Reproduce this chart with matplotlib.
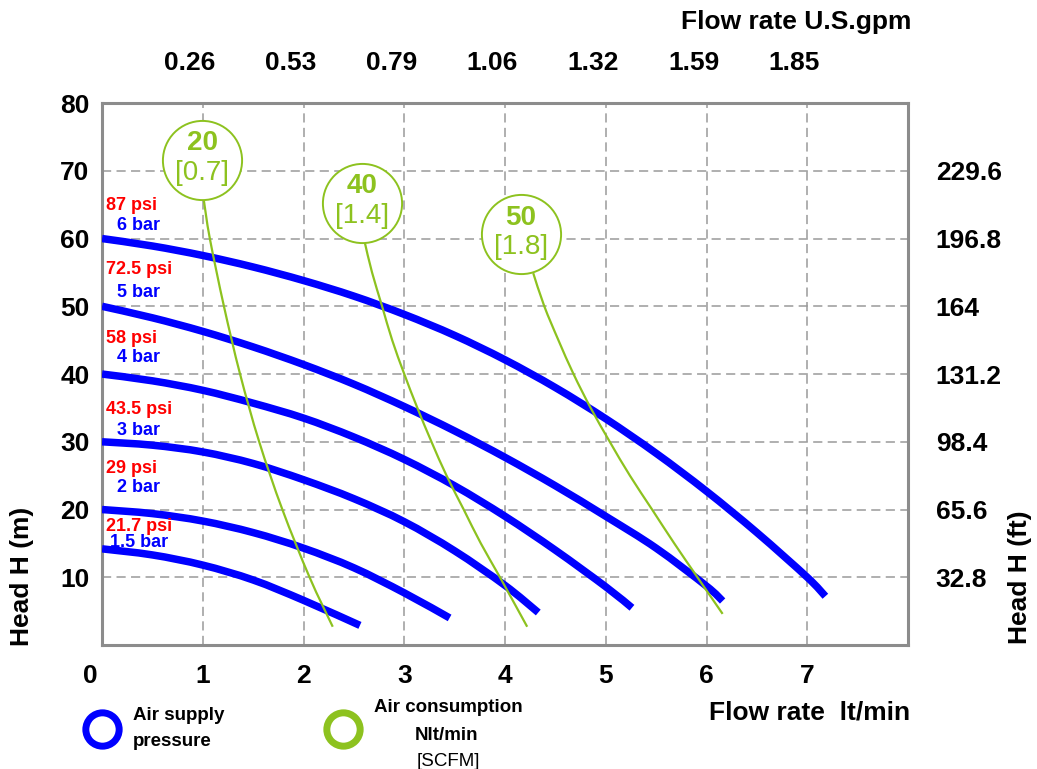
import numpy as np
import matplotlib
matplotlib.use("Agg")
import matplotlib.pyplot as plt
import matplotlib.transforms as mtransforms
from matplotlib.lines import Line2D
from matplotlib.path import Path
from matplotlib.patches import PathPatch

plt.rcParams["font.family"] = ["Liberation Sans", "DejaVu Sans"]
plt.rcParams["font.weight"] = "bold"

BLUE = "#0000ff"
RED = "#ff0000"
GREEN = "#8dc21f"
GRID = "#9a9a9a"
SPINE = "#8c8c8c"

# Air supply pressure curves: flow rate (lt/min) vs head (m)
bar_labels = ["6 bar", "5 bar", "4 bar", "3 bar", "2 bar", "1.5 bar"]
psi_labels = ["87 psi", "72.5 psi", "58 psi", "43.5 psi", "29 psi", "21.7 psi"]

flow_6bar = [0, 0.5, 1, 1.5, 2, 2.5, 3, 3.5, 4, 4.5, 5, 5.5, 6, 6.5, 7, 7.18]
head_6bar = [60, 58.9, 57.5, 55.8, 53.8, 51.5, 48.8, 45.7, 42.1, 38.0, 33.4, 28.3, 22.7, 16.6, 10.0, 7.2]

flow_5bar = [0, 0.5, 1, 1.5, 2, 2.5, 3, 3.5, 4, 4.5, 5, 5.5, 6, 6.16]
head_5bar = [50, 48.3, 46.3, 44.0, 41.4, 38.5, 35.2, 31.6, 27.7, 23.5, 19.0, 14.3, 8.7, 6.5]

flow_4bar = [0, 0.5, 1, 1.5, 2, 2.5, 3, 3.5, 4, 4.5, 5, 5.26]
head_4bar = [40, 39.0, 37.6, 35.7, 33.5, 30.7, 27.4, 23.5, 19.0, 14.0, 8.6, 5.5]

flow_3bar = [0, 0.5, 1, 1.5, 2, 2.5, 3, 3.5, 4, 4.33]
head_3bar = [30, 29.5, 28.5, 26.8, 24.4, 21.6, 18.2, 13.9, 8.8, 4.8]

flow_2bar = [0, 0.5, 1, 1.5, 2, 2.5, 3, 3.45]
head_2bar = [20, 19.4, 18.3, 16.6, 14.3, 11.4, 7.7, 4.0]

flow_15bar = [0, 0.5, 1, 1.5, 2, 2.56]
head_15bar = [14.2, 13.3, 11.8, 9.6, 6.6, 2.9]

pressure_curves = [
    (flow_6bar, head_6bar),
    (flow_5bar, head_5bar),
    (flow_4bar, head_4bar),
    (flow_3bar, head_3bar),
    (flow_2bar, head_2bar),
    (flow_15bar, head_15bar),
]

# Air consumption curves: Nlt/min [SCFM]
cons_labels = ["20", "40", "50"]
cons_scfm = ["[0.7]", "[1.4]", "[1.8]"]

flow_c20 = [1.01, 1.07, 1.21, 1.37, 1.56, 1.79, 2.06, 2.29]
head_c20 = [65.7, 60, 50, 40, 30, 20, 10, 2.7]

flow_c40 = [2.61, 2.68, 2.78, 2.88, 3.00, 3.13, 3.27, 3.42, 3.59, 3.76, 3.95, 4.22]
head_c40 = [59.3, 55, 50, 45, 40, 35, 30, 25, 20, 15, 10, 2.7]

flow_c50 = [4.28, 4.39, 4.53, 4.68, 4.85, 5.04, 5.24, 5.46, 5.68, 5.91, 6.16]
head_c50 = [54.9, 50, 45, 40, 35, 30, 25, 20, 15, 10, 4.6]

cons_curves = [(flow_c20, head_c20), (flow_c40, head_c40), (flow_c50, head_c50)]

# Axis ticks
x_ticks = [0, 1, 2, 3, 4, 5, 6, 7]
y_ticks = [10, 20, 30, 40, 50, 60, 70, 80]
gpm_ticks = [1, 2, 3, 4, 5, 6, 7]
gpm_labels = ["0.26", "0.53", "0.79", "1.06", "1.32", "1.59", "1.85"]
ft_ticks = [10, 20, 30, 40, 50, 60, 70]
ft_labels = ["32.8", "65.6", "98.4", "131.2", "164", "196.8", "229.6"]

# where the pressure labels sit (head value of the text centre)
psi_label_y = [64.9, 55.4, 45.3, 34.8, 26.1, 17.5]
bar_label_y = [61.9, 52.1, 42.5, 31.7, 23.3, 15.1]


def smooth_curve(xs, ys, **kw):
    """Draws a smooth bezier path through the read points (Catmull-Rom style)."""
    p = np.column_stack([xs, ys]).astype(float)
    n = len(p)
    verts = [p[0]]
    codes = [Path.MOVETO]
    for i in range(n - 1):
        p0 = p[i - 1] if i > 0 else p[i]
        p1 = p[i]
        p2 = p[i + 1]
        p3 = p[i + 2] if i + 2 < n else p[i + 1]
        verts += [p1 + (p2 - p0) / 6, p2 - (p3 - p1) / 6, p2]
        codes += [Path.CURVE4] * 3
    return PathPatch(Path(verts, codes), fill=False, **kw)


fig = plt.figure(figsize=(10.37, 7.69), dpi=100)
ax = fig.add_axes([0.0984, 0.1612, 0.7772, 0.7048])
ax.set_xlim(0, 8)
ax.set_ylim(0, 80)

ax.grid(True, linestyle=(0, (6, 3.5)), color=GRID, linewidth=1.1)
ax.set_axisbelow(True)
for sp in ax.spines.values():
    sp.set_color(SPINE)
    sp.set_linewidth(2.2)

ax.set_xticks(x_ticks)
ax.set_yticks(y_ticks)
ax.tick_params(axis="both", length=0, labelsize=19)
ax.tick_params(axis="x", pad=14)
ax.tick_params(axis="y", pad=9)
# the "0" label sits a bit left of the origin
shift = mtransforms.ScaledTranslation(-12 / 100, 0, fig.dpi_scale_trans)
xl0 = ax.get_xticklabels()[0]
xl0.set_transform(xl0.get_transform() + shift)

# right axis (feet)
axr = ax.twinx()
axr.set_ylim(0, 80)
axr.set_yticks(ft_ticks)
axr.set_yticklabels(ft_labels)
axr.tick_params(axis="y", length=0, labelsize=19, pad=20)
for sp in axr.spines.values():
    sp.set_visible(False)

# top axis (U.S. gpm)
axt = ax.twiny()
axt.set_xlim(0, 8)
axt.set_xticks(gpm_ticks)
axt.set_xticklabels(gpm_labels)
axt.tick_params(axis="x", length=0, labelsize=19, pad=20)
tshift = mtransforms.ScaledTranslation(-13 / 100, 0, fig.dpi_scale_trans)
for lab in axt.get_xticklabels():
    lab.set_transform(lab.get_transform() + tshift)
for sp in axt.spines.values():
    sp.set_visible(False)

# pressure curves and labels
for (fx, hy), bl, pl, by, py in zip(pressure_curves, bar_labels, psi_labels,
                                    bar_label_y, psi_label_y):
    ax.add_patch(smooth_curve(fx, hy, edgecolor=BLUE, linewidth=5.4,
                              capstyle="butt", zorder=3))
    ax.annotate(pl, xy=(0, py), xytext=(2.5, 0), textcoords="offset points",
                ha="left", va="center", color=RED, fontsize=13, zorder=7)
    ax.annotate(bl, xy=(0, by), xytext=(26.5, 0), textcoords="offset points",
                ha="center", va="center", color=BLUE, fontsize=13, zorder=7)

# air consumption curves with circle labels
circle_offsets = [(-1, 29), (-2, 29), (-9, 28)]
for (fx, hy), cl, sl, (dx, dy) in zip(cons_curves, cons_labels, cons_scfm, circle_offsets):
    ax.add_patch(smooth_curve(fx, hy, edgecolor=GREEN, linewidth=1.6, zorder=4))
    off = mtransforms.ScaledTranslation(dx / 72, dy / 72, fig.dpi_scale_trans)
    ax.plot([fx[0]], [hy[0]], marker="o", markersize=57, markerfacecolor="white",
            markeredgecolor=GREEN, markeredgewidth=1.4, transform=ax.transData + off,
            zorder=5, clip_on=False)
    ax.annotate(cl, xy=(fx[0], hy[0]), xytext=(dx, dy + 12), textcoords="offset points",
                ha="center", va="center", color=GREEN, fontsize=20, zorder=6)
    ax.annotate(sl, xy=(fx[0], hy[0]), xytext=(dx, dy - 9.5), textcoords="offset points",
                ha="center", va="center", color=GREEN, fontsize=20,
                fontweight="normal", zorder=6)

# axis titles
fig.text(0.021, 0.25, "Head H (m)", rotation=90, ha="center", va="center", fontsize=19)
fig.text(0.984, 0.25, "Head H (ft)", rotation=90, ha="center", va="center", fontsize=19)
fig.text(0.781, 0.073, "Flow rate  lt/min", ha="center", va="center", fontsize=19)
fig.text(0.768, 0.971, "Flow rate U.S.gpm", ha="center", va="center", fontsize=19)

# legend
fig.add_artist(Line2D([102 / 1037], [1 - 729 / 769], transform=fig.transFigure, marker="o",
                      markersize=24, markerfacecolor="none", markeredgecolor=BLUE,
                      markeredgewidth=5, linestyle="none"))
fig.add_artist(Line2D([343 / 1037], [1 - 729 / 769], transform=fig.transFigure, marker="o",
                      markersize=24, markerfacecolor="none", markeredgecolor=GREEN,
                      markeredgewidth=5, linestyle="none"))
fig.text(133 / 1037, 1 - 716 / 769, "Air supply", ha="left", va="center", fontsize=13.5)
fig.text(133 / 1037, 1 - 742 / 769, "pressure", ha="left", va="center", fontsize=13.5)
fig.text(448 / 1037, 1 - 708 / 769, "Air consumption", ha="center", va="center", fontsize=13.5)
fig.text(447 / 1037, 1 - 735 / 769, "Nlt/min", ha="center", va="center", fontsize=13.5)
fig.text(448 / 1037, 1 - 761 / 769, "[SCFM]", ha="center", va="center", fontsize=13.5,
         fontweight="normal")

fig.savefig("out.png", dpi=100)
